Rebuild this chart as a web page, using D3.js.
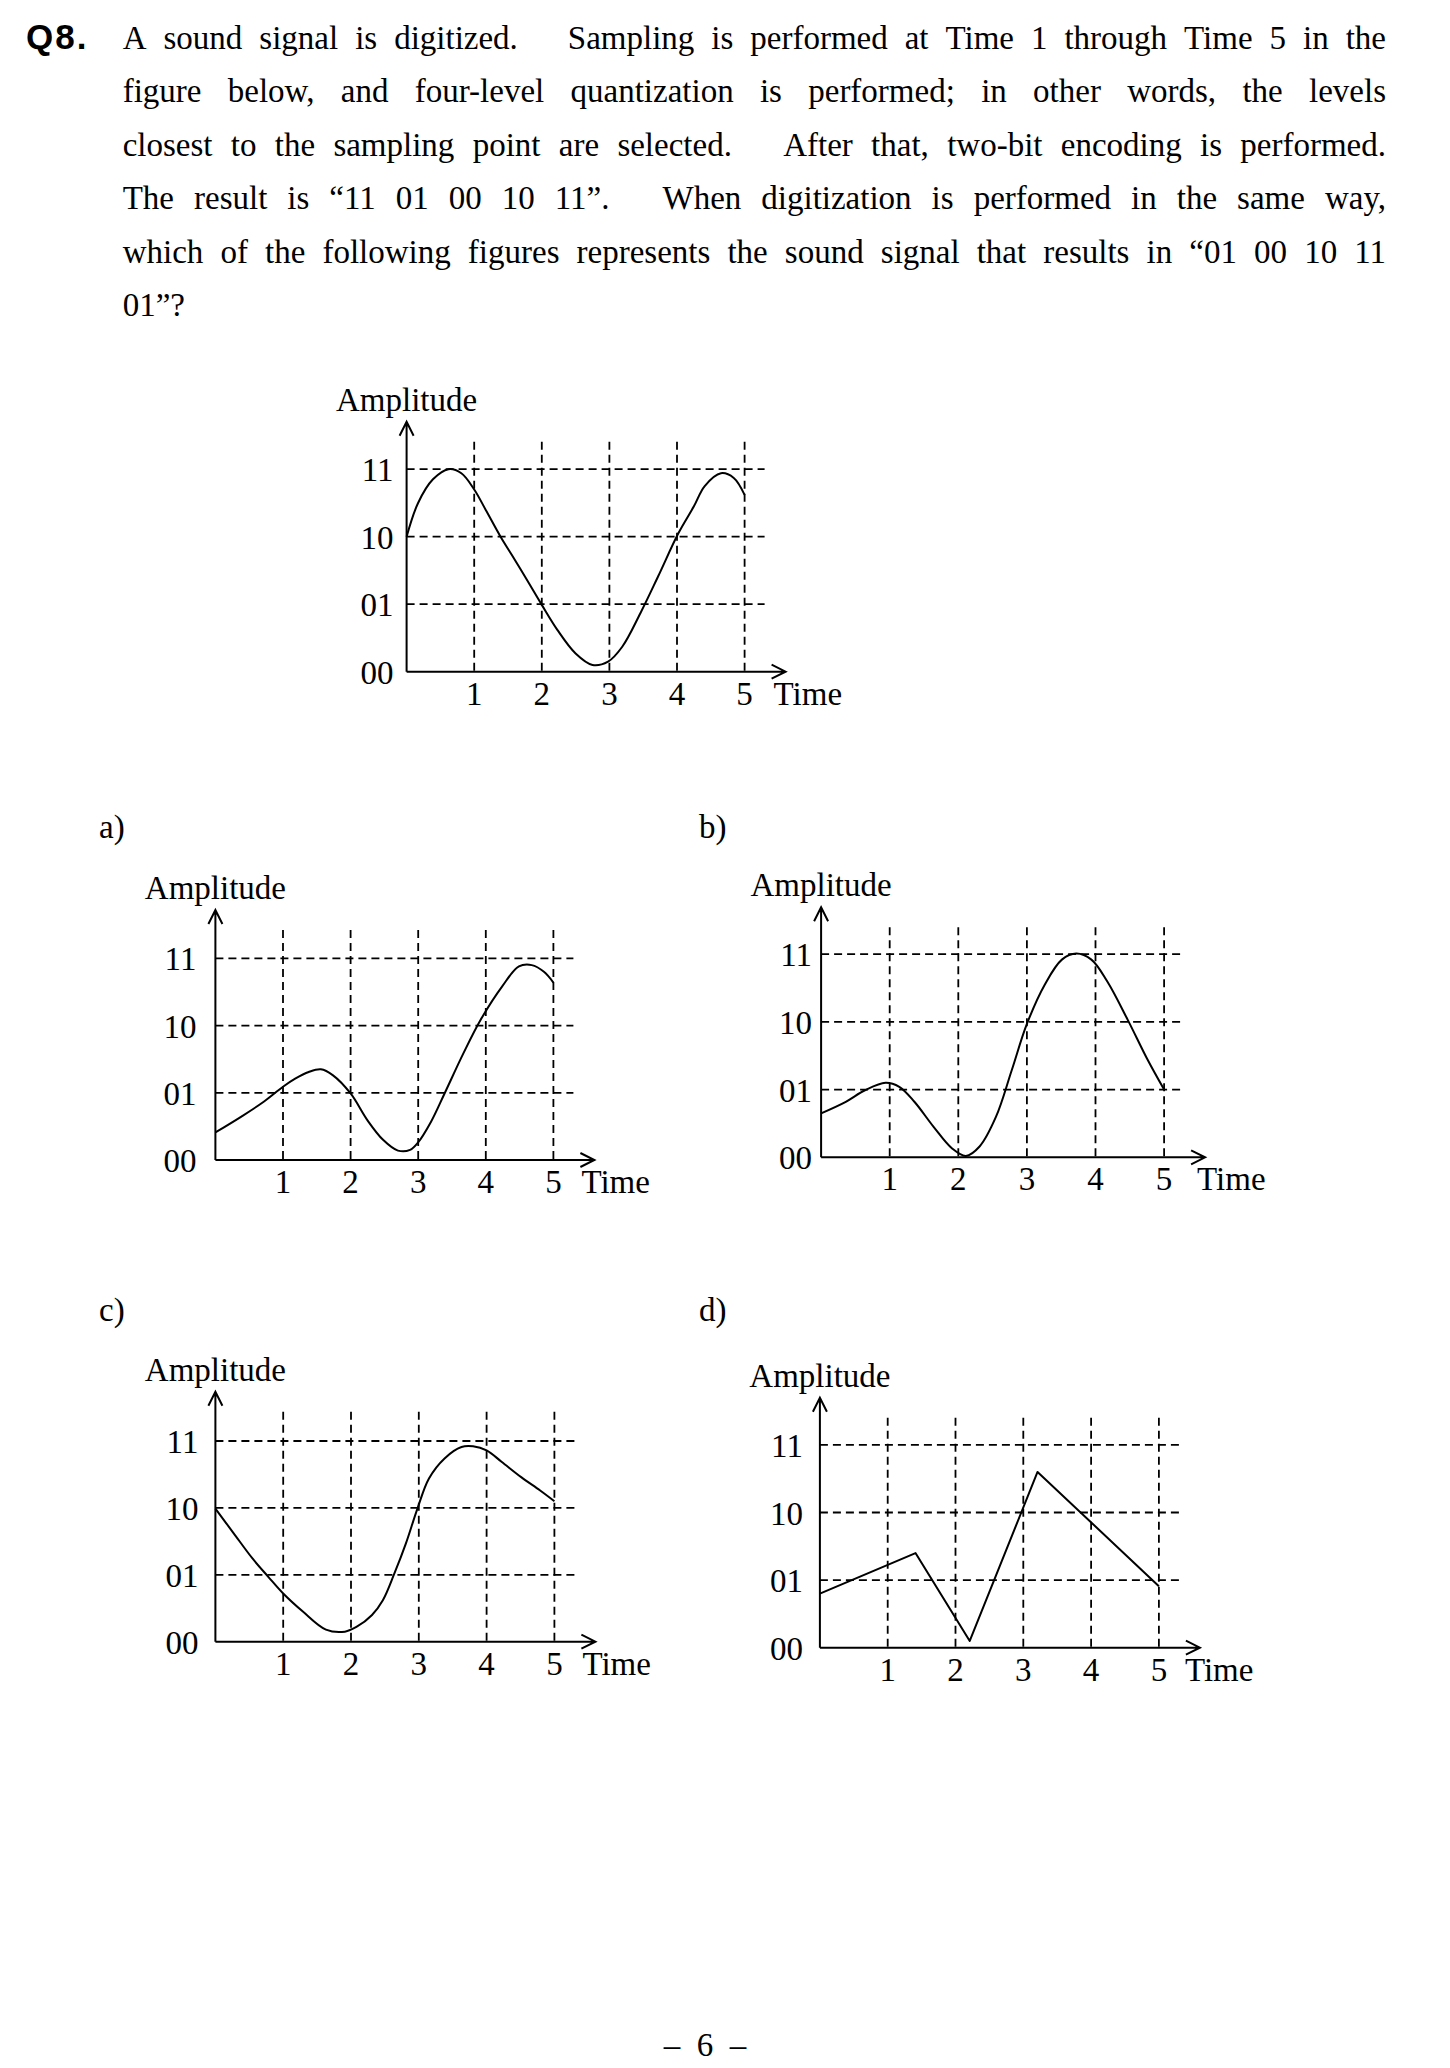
<!DOCTYPE html>
<html><head><meta charset="utf-8">
<script src="https://cdn.jsdelivr.net/npm/d3@7"></script>
<style>html,body{margin:0;padding:0;background:#fff} svg{display:block}</style>
</head><body>
<svg id="page" width="1450" height="2068"></svg>
<script>
// ---------------- data ----------------
const questionNumber = "Q8.";
// "|" marks the wide (full-width) gap used after a sentence
const questionLines = [
  "A sound signal is digitized.|Sampling is performed at Time 1 through Time 5 in the",
  "figure below, and four-level quantization is performed; in other words, the levels",
  "closest to the sampling point are selected.|After that, two-bit encoding is performed.",
  "The result is “11 01 00 10 11”.|When digitization is performed in the same way,",
  "which of the following figures represents the sound signal that results in “01 00 10 11",
  "01”?"
];
const levelLabels = ["00", "01", "10", "11"];
const levelValues = [0, 1, 2, 3];
const timeTicks = [1, 2, 3, 4, 5];
const yTitle = "Amplitude";
const xTitle = "Time";
const panelNames = [null, "a)", "b)", "c)", "d)"];
// signals as [time, level] (level 0 = "00" ... 3 = "11")
const signalQuestion = [[0,2.0],[0.17,2.5],[0.39,2.85],[0.62,3.0],[0.81,2.94],[1.0,2.70],[1.18,2.38],[1.39,2.0],[1.6,1.66],[1.81,1.31],[2.0,0.99],[2.23,0.62],[2.5,0.27],[2.75,0.10],[2.98,0.15],[3.19,0.37],[3.46,0.87],[3.72,1.41],[4.02,2.05],[4.25,2.45],[4.41,2.75],[4.65,2.94],[4.84,2.87],[5.0,2.62]];
const signalA = [[0,0.41],[0.39,0.65],[0.72,0.87],[1.0,1.09],[1.18,1.21],[1.38,1.31],[1.56,1.35],[1.74,1.26],[2.0,0.99],[2.25,0.59],[2.48,0.30],[2.70,0.14],[2.88,0.15],[2.99,0.25],[3.19,0.57],[3.39,0.99],[3.67,1.59],[3.92,2.08],[4.24,2.58],[4.49,2.88],[4.68,2.90],[4.86,2.80],[5.0,2.64]];
const signalB = [[0,0.65],[0.36,0.82],[0.64,0.99],[0.94,1.10],[1.14,1.04],[1.36,0.82],[1.64,0.45],[1.91,0.13],[2.11,0.02],[2.31,0.16],[2.55,0.60],[2.78,1.29],[3.0,1.97],[3.26,2.55],[3.51,2.92],[3.72,3.01],[3.94,2.92],[4.17,2.60],[4.47,2.03],[4.76,1.44],[5.0,1.0]];
const signalC = [[0,1.99],[0.27,1.62],[0.55,1.24],[0.78,0.97],[1.0,0.72],[1.29,0.45],[1.63,0.18],[1.91,0.15],[2.08,0.22],[2.31,0.40],[2.47,0.62],[2.64,1.02],[2.81,1.47],[2.98,1.99],[3.15,2.44],[3.38,2.74],[3.63,2.91],[3.80,2.92],[4.0,2.86],[4.22,2.69],[4.51,2.46],[4.79,2.26],[5.0,2.10]];
const signalD = [[0,0.80],[1.41,1.40],[2.21,0.10],[3.21,2.60],[5.0,0.91]];
const signals = [signalQuestion, signalA, signalB, signalC, signalD];
const smoothFlags = [true, true, true, true, false];
const pageNumber = "–  6  –";

// ---------------- layout ----------------
const FONT = "'Liberation Serif','Times New Roman',Times,serif";
const FS = 33;
const panelLayout = [
  {ox:406.6, oy:671.7, tu:67.6, lu:67.5, labelGap:13, timeGap:29},
  {ox:215.4, oy:1160,  tu:67.6, lu:67.2, labelGap:19, timeGap:28, nx:99,  ny:838},
  {ox:821.1, oy:1157.3,tu:68.6, lu:67.7, labelGap:9,  timeGap:33, nx:699, ny:838},
  {ox:215.4, oy:1641.7,tu:67.8, lu:66.9, labelGap:17, timeGap:28, nx:99,  ny:1321},
  {ox:819.9, oy:1647.7,tu:67.8, lu:67.6, labelGap:17, timeGap:26, nx:699, ny:1321}
];
const text = {left:122.7, right:1386, base:48.5, step:53.5};

const svg = d3.select("#page");
svg.append("rect").attr("width",1450).attr("height",2068).attr("fill","#fff");

// ---------- question header ----------
svg.append("text").attr("x",26).attr("y",text.base)
  .attr("font-family","'Liberation Sans',Arial,sans-serif").attr("font-weight","bold")
  .attr("font-size",35).attr("letter-spacing",2).text(questionNumber);

questionLines.forEach((line, i) => {
  const y = text.base + i*text.step;
  const justify = i < questionLines.length - 1;
  const tokens = [];
  line.split("|").forEach((seg, si) => {
    seg.split(" ").forEach((w, wi) => {
      tokens.push({w, gap: tokens.length === 0 ? null : (wi === 0 && si > 0 ? "wide" : "normal")});
    });
  });
  const g = svg.append("g");
  const els = tokens.map(t => g.append("text").attr("y", y)
      .attr("font-family", FONT).attr("font-size", FS).text(t.w));
  const widths = els.map(e => e.node().getComputedTextLength());
  const total = d3.sum(widths);
  const nGaps = tokens.length - 1;
  const nWide = tokens.filter(t => t.gap === "wide").length;
  const gap = justify ? (text.right - text.left - total - nWide*FS) / nGaps : FS*0.25;
  let x = text.left;
  tokens.forEach((t, k) => {
    if (k > 0) x += gap + (t.gap === "wide" ? FS : 0);
    els[k].attr("x", x);
    x += widths[k];
  });
});

// ---------- panels ----------
panelLayout.forEach((L, p) => {
  const g = svg.append("g");
  const x = d3.scaleLinear().domain([0,5]).range([L.ox, L.ox + 5*L.tu]);
  const y = d3.scaleLinear().domain([0,3]).range([L.oy, L.oy - 3*L.lu]);
  const gridTop = L.oy - 230, xEnd = x(5) + 41, hEnd = x(5) + 20, yTop = L.oy - 250;

  // dashed grid
  g.selectAll(".hg").data(levelValues.filter(v => v > 0)).join("line")
    .attr("x1", L.ox).attr("x2", hEnd).attr("y1", d => y(d)).attr("y2", d => y(d))
    .attr("stroke","#000").attr("stroke-width",1.8).attr("stroke-dasharray","8,5");
  g.selectAll(".vg").data(timeTicks).join("line")
    .attr("x1", d => x(d)).attr("x2", d => x(d)).attr("y1", gridTop).attr("y2", L.oy)
    .attr("stroke","#000").attr("stroke-width",1.8).attr("stroke-dasharray","8,5");

  // axes with open arrows
  const ax = {stroke:"#000", "stroke-width":2, fill:"none"};
  const path = (d) => { const e = g.append("path").attr("d", d); Object.entries(ax).forEach(([k,v]) => e.attr(k,v)); };
  path(`M${L.ox},${L.oy}V${yTop}M${L.ox-7},${yTop+14}L${L.ox},${yTop}L${L.ox+7},${yTop+14}`);
  path(`M${L.ox},${L.oy}H${xEnd}M${xEnd-14},${L.oy-7}L${xEnd},${L.oy}L${xEnd-14},${L.oy+7}`);

  // signal
  const lineGen = d3.line().x(d => x(d[0])).y(d => y(d[1]))
    .curve(smoothFlags[p] ? d3.curveCatmullRom.alpha(0.5) : d3.curveLinear);
  g.append("path").datum(signals[p]).attr("d", lineGen)
    .attr("fill","none").attr("stroke","#000").attr("stroke-width",2).attr("stroke-linejoin","round");

  // labels
  const T = (sel) => sel.attr("font-family", FONT).attr("font-size", FS).attr("fill","#000");
  T(g.selectAll(".yl").data(levelValues).join("text"))
    .attr("x", L.ox - L.labelGap).attr("y", d => y(d) + 12).attr("text-anchor","end")
    .text(d => levelLabels[d]);
  T(g.selectAll(".xl").data(timeTicks).join("text"))
    .attr("x", d => x(d)).attr("y", L.oy + 33).attr("text-anchor","middle").text(d => d);
  T(g.append("text")).attr("x", x(5) + L.timeGap).attr("y", L.oy + 33).text(xTitle);
  T(g.append("text")).attr("x", L.ox).attr("y", L.oy - 261).attr("text-anchor","middle").text(yTitle);
  if (panelNames[p]) T(g.append("text")).attr("x", L.nx).attr("y", L.ny).text(panelNames[p]);
});

// page number
svg.append("text").attr("x", 705).attr("y", 2056).attr("text-anchor","middle")
  .attr("font-family", FONT).attr("font-size", 33).style("white-space","pre").text(pageNumber);
</script>
</body></html>
